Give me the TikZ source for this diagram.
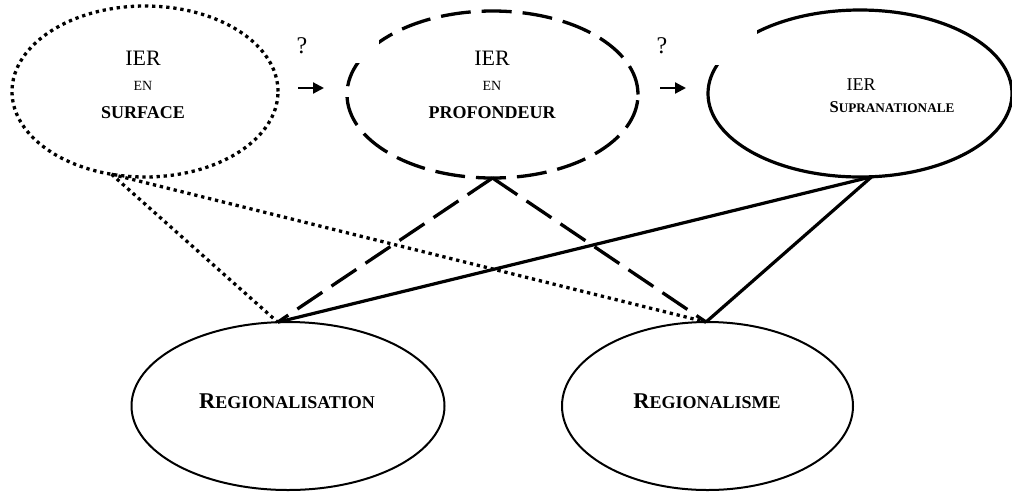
\documentclass[tikz,border=0pt]{standalone}
\usepackage{fontspec}
\setmainfont{Liberation Serif}
\usetikzlibrary{shapes.geometric,arrows.meta}
\begin{document}
\begin{tikzpicture}[x=1pt,y=-1pt,
  oval/.style={ellipse, inner sep=0pt, outer sep=0pt},
  dotline/.style={line width=3.3pt, dash pattern=on 3.3pt off 3.8pt},
  dashline/.style={line width=3.3pt, dash pattern=on 30pt off 11pt},
  solidline/.style={line width=3.2pt},
  thinoval/.style={line width=2pt},
  lbl/.style={anchor=base, inner sep=0pt},
  arr/.style={line width=2.2pt, -{Triangle[length=11pt,width=11pt]}}
]
\useasboundingbox (0,0) rectangle (1012,491);

% top ellipses
\node[oval, draw, dotline, minimum width=266pt, minimum height=171pt] (e1) at (145,91.5) {};
\node[oval, draw, dashline, minimum width=291pt, minimum height=167pt] (e2) at (492.5,94.5) {};
\node[oval, draw, solidline, minimum width=304pt, minimum height=167pt] (e3) at (860,93.5) {};
% bottom ellipses
\node[oval, draw, thinoval, minimum width=313pt, minimum height=168pt] (r1) at (288,406) {};
\node[oval, draw, thinoval, minimum width=291pt, minimum height=168pt] (r2) at (707.5,406) {};

% question mark boxes (cut the ellipses)
\fill[white] (284,24) rectangle (379,63);
\fill[white] (650,28) rectangle (757,65);
\node[lbl, font=\fontsize{24}{26}\selectfont] (q1) at (302,53) {?};
\node[lbl, font=\fontsize{24}{26}\selectfont] (q2) at (662,53) {?};

% arrows
\coordinate (a1s) at (298,88);
\coordinate (a1e) at (324,88);
\coordinate (a2s) at (660,88);
\coordinate (a2e) at (686,88);
\draw[arr] (a1s) -- (a1e);
\draw[arr] (a2s) -- (a2e);

% connectors
\draw[dotline] (e1.248) -- (r1.97.5);
\draw[dotline] (e1.248) -- (r2.91);
\draw[dashline] (e2.270) -- (r1.97.5);
\draw[dashline] (e2.270) -- (r2.91);
\draw[solidline] (e3.278) -- (r1.97.5);
\draw[solidline] (e3.278) -- (r2.91);

% texts
\node[lbl, font=\fontsize{22}{24}\selectfont] (t1a) at (143,65) {IER};
\node[lbl, font=\fontsize{14}{16}\selectfont] (t1b) at (143,90) {EN};
\node[lbl, font=\fontsize{18}{20}\selectfont\bfseries] (t1c) at (143,118) {SURFACE};

\node[lbl, font=\fontsize{22}{24}\selectfont] (t2a) at (492,65) {IER};
\node[lbl, font=\fontsize{14}{16}\selectfont] (t2b) at (492,90) {EN};
\node[lbl, font=\fontsize{18}{20}\selectfont\bfseries] (t2c) at (492,118) {PROFONDEUR};

\node[lbl, font=\fontsize{18}{20}\selectfont] (t3a) at (861,90) {IER};
\node[lbl, font=\bfseries] (t3b) at (892,112) {\fontsize{16.5}{18}\selectfont S\fontsize{13.2}{15}\selectfont UPRANATIONALE};

\node[lbl, font=\bfseries] (t4) at (287,408) {\fontsize{22.5}{26}\selectfont R\fontsize{18}{20}\selectfont EGIONALISATION};
\node[lbl, font=\bfseries] (t5) at (707,408) {\fontsize{22.5}{26}\selectfont R\fontsize{18}{20}\selectfont EGIONALISME};
\end{tikzpicture}
\end{document}
